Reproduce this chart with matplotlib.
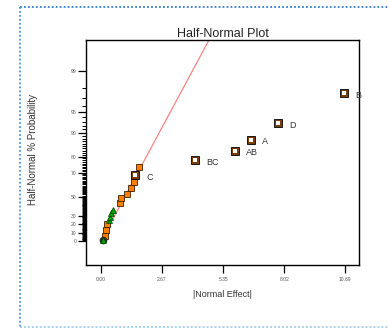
import numpy as np
import matplotlib
matplotlib.use('Agg')
import matplotlib.pyplot as plt
from matplotlib.lines import Line2D
from statistics import NormalDist

plt.rcParams.update({
    'font.family': ['Liberation Sans', 'DejaVu Sans'],
    'axes.linewidth': 1.0,
})

# ── data ────────────────────────────────────────────────────────────────
# |effect| vs half-normal % probability
sq_x = [0.19, 0.22, 0.26, 0.83, 0.89, 1.15, 1.33, 1.43, 1.65]
sq_p = [6.4, 12.7, 20.5, 43.1, 48.4, 52.8, 58.2, 62.7, 73.7]
tri_x = [0.07, 0.34, 0.41, 0.45, 0.51]
tri_p = [1.5, 25.1, 28.9, 32.6, 36.2]
lab_names = ['C', 'BC', 'AB', 'A', 'D', 'B']
lab_x = [1.50, 4.11, 5.85, 6.56, 7.76, 10.62]
lab_p = [68.3, 77.8, 82.9, 87.6, 92.6, 97.5]
fit_slope = 0.645          # z per unit effect, line through origin
fit_x = [0.3, 6.0]

xticks = [0.00, 2.67, 5.35, 8.02, 10.69]
yticks = [0, 10, 20, 30, 50, 70, 80, 90, 95, 99]

ORANGE = '#FF8000'
GREEN = '#00A000'
BROWN = '#7A3E0A'
LINE = '#FF7676'

_nd = NormalDist()
_inv = np.vectorize(_nd.inv_cdf)
_cdf = np.vectorize(_nd.cdf)


def fwd(p):
    q = np.clip(0.5 + np.asarray(p, float) / 200.0, 1e-9, 1 - 1e-9)
    return _inv(q)


def inv(z):
    return (2 * _cdf(np.asarray(z, float)) - 1) * 100.0


fig = plt.figure(figsize=(3.89, 3.29), dpi=100)
ax = fig.add_axes([0.2211, 0.1945, 0.7018, 0.6839])
ax.set_yscale('function', functions=(fwd, inv))

# fitted line
fx = np.array(fit_x)
ax.plot(fx, inv(fit_slope * fx), color=LINE, lw=0.8, zorder=1)

ax.plot(sq_x, sq_p, 's', ms=4.2, mfc=ORANGE, mec='#3a2000', mew=0.6, zorder=3)
ax.plot(tri_x[:1], tri_p[:1], 'o', ms=4.5, mfc='#2b2b2b', mec='#2b2b2b', zorder=3)
ax.plot(tri_x, tri_p, '^', ms=4.5, mfc=GREEN, mec='#004000', mew=0.5, zorder=4)
ax.plot(lab_x, lab_p, 's', ms=5.2, mfc=BROWN, mec='black', mew=0.6, zorder=5)
ax.plot(lab_x, lab_p, 's', ms=2.4, mfc='white', mec='white', mew=0, zorder=6)
for n, x, p in zip(lab_names, lab_x, lab_p):
    ax.annotate(n, (x, p), xytext=(8, -1.5), textcoords='offset points',
                fontsize=6.5, color='#333333', va='center', ha='left',
                annotation_clip=False)

ax.set_xlim(-0.656, 11.29)
ax.set_ylim(-28.4, 99.77)
ax.set_xticks(xticks)
ax.set_xticklabels([f'{v:.2f}' for v in xticks])
ax.set_yticks(yticks)
ax.set_yticklabels([str(v) for v in yticks])
ax.set_yticks([v for v in range(1, 99) if v not in yticks], minor=True)
ax.tick_params(axis='both', which='major', labelsize=3.6, labelcolor='#555555',
               length=5.5, width=0.9, direction='out')
ax.tick_params(axis='y', which='major', pad=1.6)
ax.tick_params(axis='x', which='major', pad=3.0)
ax.tick_params(axis='y', which='minor', length=2.8, width=0.7, direction='out')

ax.set_title('Half-Normal Plot', fontsize=9, color='#222222', pad=2.5)
ax.set_xlabel('|Normal Effect|', fontsize=6.5, color='#333333', va='center')
ax.xaxis.set_label_coords(0.5, -0.133)
ax.set_ylabel('Half-Normal % Probability', fontsize=7, color='#333333', va='center')
ax.yaxis.set_label_coords(-0.194, 0.513)

# dotted page border
W, H = 389.0, 329.0
border = [((20, 7), (389, 7), '#2f7fd0'),
          ((20, 7), (20, 328), '#4a97dc'),
          ((20, 327), (389, 327), '#9ccbef')]
for (x0, y0), (x1, y1), c in border:
    fig.add_artist(Line2D([x0 / W, x1 / W], [1 - y0 / H, 1 - y1 / H],
                          transform=fig.transFigure, color=c, lw=1.3,
                          ls=(0, (1, 1.2))))

fig.savefig('out.png', dpi=100, facecolor='white')
